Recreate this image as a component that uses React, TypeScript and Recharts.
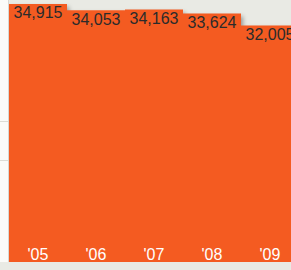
import React from "react";
import { BarChart, Bar, XAxis, YAxis, LabelList } from "recharts";

const years = ["'05", "'06", "'07", "'08", "'09"];
const values = [34915, 34053, 34163, 33624, 32005];

const data = years.map((y, i) => ({ year: y, value: values[i] }));

export default function App() {
  return (
    <div
      style={{
        position: "fixed",
        left: 0,
        top: 0,
        width: 291,
        height: 270,
        overflow: "hidden",
        background: "#e9eae4",
        fontFamily: "'Liberation Sans', Arial, sans-serif",
      }}
    >
      <style>{".recharts-bar-rectangles{filter:drop-shadow(2px 3px 2px rgba(0,0,0,0.35));}"}</style>
      <div
        style={{
          position: "absolute",
          left: 0,
          top: 0,
          width: 8,
          height: 262,
          background: "#fbfbf9",
          borderRight: "1px solid #d8d8d2",
        }}
      />
      <div style={{ position: "absolute", left: 0, top: 121, width: 8, height: 1, background: "#dcdcd6" }} />
      <div style={{ position: "absolute", left: 0, top: 160, width: 8, height: 1, background: "#dcdcd6" }} />
      <div style={{ position: "absolute", left: 9, top: 0 }}>
        <BarChart
          width={290}
          height={262}
          data={data}
          margin={{ top: 4, right: 0, bottom: 0, left: 0 }}
          barCategoryGap={0}
        >
          <XAxis dataKey="year" hide />
          <YAxis hide domain={[0, "dataMax"]} />
          <Bar dataKey="value" fill="#f45b21" isAnimationActive={false}>
            <LabelList
              dataKey="value"
              position="insideTop"
              offset={3}
              fill="#2b2b2b"
              fontSize={16}
              formatter={(v: any) => Number(v).toLocaleString("en-US")}
            />
            <LabelList
              dataKey="year"
              position="insideBottom"
              offset={2}
              fill="#ffffff"
              fontSize={16}
            />
          </Bar>
        </BarChart>
      </div>
    </div>
  );
}
